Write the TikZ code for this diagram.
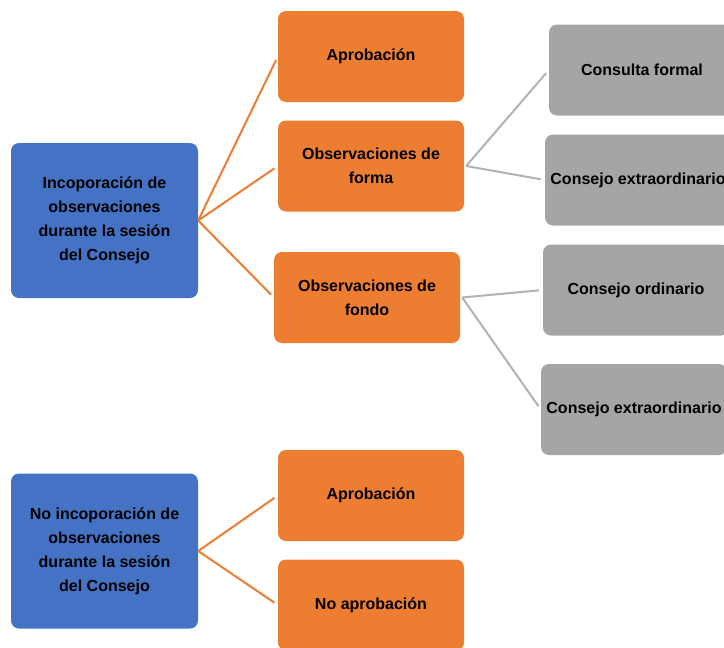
\documentclass[tikz,border=0pt]{standalone}
\usepackage{fontspec}
\setmainfont{Liberation Sans}
\usetikzlibrary{positioning}
\definecolor{rootblue}{HTML}{4472C4}
\definecolor{suborange}{HTML}{ED7D31}
\definecolor{leafgrey}{HTML}{A5A5A5}

\begin{document}
\begin{tikzpicture}
  [
    x=1pt,y=-1pt,
    box/.style={rounded corners=8pt,minimum width=186pt,minimum height=91pt,
      align=center,inner sep=2pt,font=\fontsize{16}{24}\selectfont\bfseries},
    root/.style={box,fill=rootblue,minimum width=187pt,minimum height=155pt},
    sub/.style={box,fill=suborange},
    leaf/.style={box,fill=leafgrey},
    olink/.style={suborange,line width=2pt,shorten >=4pt},
    glink/.style={leafgrey!85,line width=2pt,shorten >=4pt}
  ]
  \useasboundingbox (0,0) rectangle (724,648);
  % incorporacion
  \node[root] (inc) at (104.5,220.5)
    {Incoporación de\\ observaciones\\durante la sesión\\del Consejo};
  \node[sub] (apr) at (371,56.5) {Aprobación};
  \node[sub] (forma) at (371,166) {Observaciones de\\forma};
  \node[sub] (fondo) at (367,297.5) {Observaciones de\\fondo};
  % forma / fondo
  \node[leaf] (consulta) at (642,70) {Consulta formal};
  \node[leaf] (extraA) at (638,180) {Consejo extraordinario};
  \node[leaf] (ordinario) at (636,290) {Consejo ordinario};
  \node[leaf] (extraB) at (634,409.5) {Consejo extraordinario};
  % no incorporacion
  \node[root] (noinc) at (104.5,551)
    {No incoporación de\\observaciones\\durante la sesión\\del Consejo};
  \node[sub] (aprB) at (371,495.5) {Aprobación};
  \node[sub] (noapr) at (371,605) {No aprobación};
  % edges
  \foreach \a/\b in {inc/apr,inc/forma,inc/fondo,noinc/aprB,noinc/noapr} {
      \draw [olink] (\a.east) -- (\b.west);
  }
  \foreach \a/\b in {forma/consulta,forma/extraA,fondo/ordinario,fondo/extraB} {
      \draw [glink] ([xshift=2pt]\a.east) -- (\b.west);
  }
\end{tikzpicture}
\end{document}
